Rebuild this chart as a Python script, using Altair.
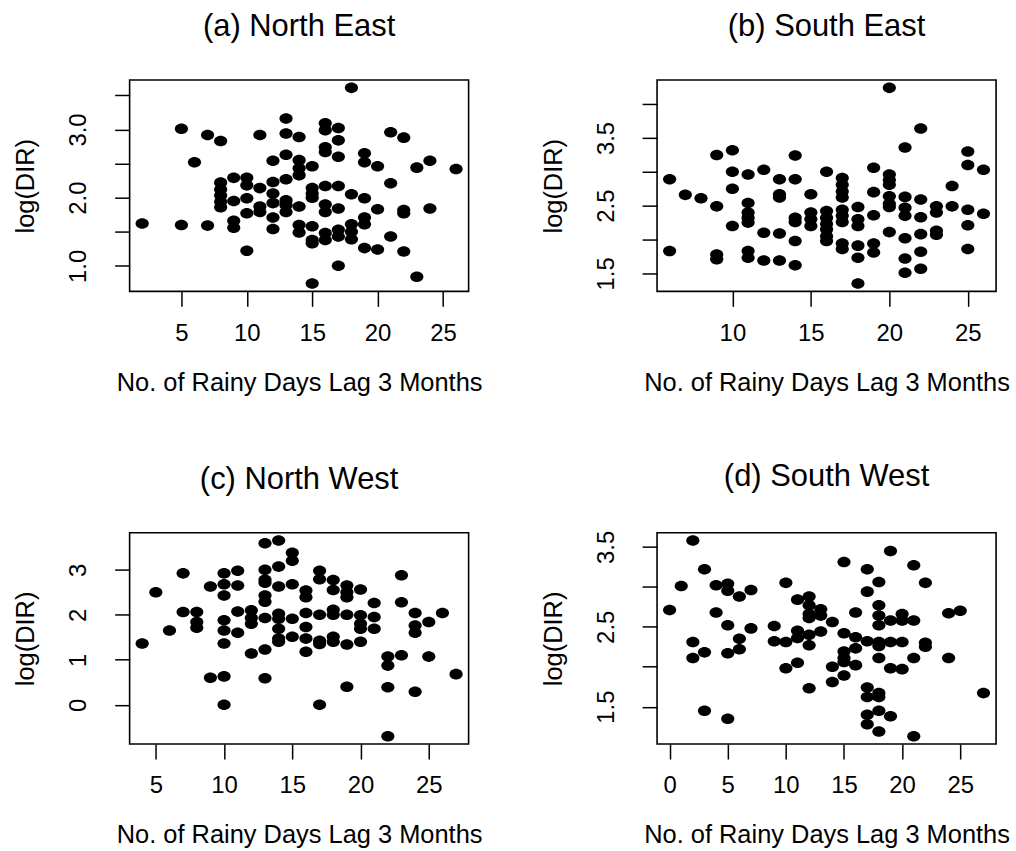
import altair as alt
import pandas as pd

FONT = "Liberation Sans"
X_TITLE = "No. of Rainy Days Lag 3 Months"
Y_TITLE = "log(DIR)"

# (a) North East
ne_days = [2, 5, 5, 6, 7, 7, 8, 8, 8, 8, 8, 8,
           9, 9, 9, 9, 10, 10, 10, 10, 10, 11, 11, 11, 11,
           12, 12, 12, 12, 12, 12, 13, 13, 13, 13, 13, 13, 13,
           14, 14, 14, 14, 14, 14, 14, 15, 15, 15, 15, 15, 15, 15, 15,
           16, 16, 16, 16, 16, 16, 16, 16, 16, 17, 17, 17, 17, 17, 17, 17, 17,
           18, 18, 18, 18, 18, 19, 19, 19, 19, 19, 19, 20, 20, 20,
           21, 21, 21, 22, 22, 22, 22, 23, 23, 24, 24, 26]
ne_logdir = [1.62, 3.01, 1.60, 2.52, 2.92, 1.59, 2.83, 2.22, 2.12, 2.03, 1.94, 1.86,
             2.29, 1.95, 1.66, 1.56, 2.29, 2.18, 1.99, 1.77, 1.22, 2.92, 2.14, 1.87, 1.79,
             2.54, 2.23, 2.06, 1.92, 1.71, 1.54, 3.16, 2.94, 2.63, 2.27, 1.96, 1.89, 1.79,
             2.89, 2.55, 2.43, 2.33, 1.87, 1.60, 1.49, 2.46, 2.14, 2.06, 2.00, 1.58, 1.38, 1.33, 0.74,
             3.09, 2.99, 2.74, 2.67, 2.17, 1.90, 1.79, 1.48, 1.38, 3.02, 2.84, 2.60, 2.17, 1.84, 1.53, 1.43, 1.00,
             3.61, 2.05, 1.61, 1.50, 1.39, 2.65, 2.52, 1.99, 1.71, 1.61, 1.26, 2.46, 1.83, 1.24,
             2.96, 2.21, 1.43, 2.88, 1.82, 1.77, 1.21, 2.44, 0.84, 2.54, 1.84, 2.42]

# (b) South East
se_days = [6, 6, 7, 8, 9, 9, 9, 9, 10, 10, 10, 10,
           11, 11, 11, 11, 11, 11, 11, 12, 12, 12, 13, 13, 13, 13, 13,
           14, 14, 14, 14, 14, 14, 15, 15, 15, 15, 16, 16, 16, 16, 16, 16, 16,
           17, 17, 17, 17, 17, 17, 17, 17, 17, 18, 18, 18, 18, 18, 18,
           19, 19, 19, 19, 19, 20, 20, 20, 20, 20, 20, 20, 20,
           21, 21, 21, 21, 21, 21, 21, 22, 22, 22, 22, 22, 22,
           23, 23, 23, 23, 24, 24, 25, 25, 25, 25, 25, 26, 26]
se_logdir = [2.89, 1.83, 2.66, 2.61, 3.25, 2.49, 1.78, 1.71, 3.32, 3.00, 2.75, 2.20,
             2.96, 2.54, 2.40, 2.32, 2.25, 1.83, 1.73, 3.03, 2.10, 1.69, 2.89, 2.67, 2.62, 2.09, 1.69,
             3.24, 2.89, 2.32, 2.26, 1.98, 1.62, 2.67, 2.40, 2.30, 2.20, 3.00, 2.42, 2.32, 2.23, 2.15, 2.05, 1.98,
             2.91, 2.81, 2.71, 2.62, 2.44, 2.35, 2.26, 1.94, 1.86, 2.48, 2.30, 2.20, 1.91, 1.73, 1.35,
             3.06, 2.70, 2.36, 1.94, 1.81, 4.24, 2.96, 2.88, 2.81, 2.64, 2.53, 2.48, 2.11,
             3.36, 2.63, 2.47, 2.35, 2.02, 1.72, 1.51, 3.64, 2.59, 2.33, 2.08, 1.82, 1.57,
             2.49, 2.40, 2.13, 2.07, 2.79, 2.49, 3.30, 3.10, 2.44, 2.21, 1.86, 3.03, 2.38]

# (c) North West
nw_days = [4, 5, 6, 7, 7, 8, 8, 8, 9, 9,
           10, 10, 10, 10, 10, 10, 10, 10, 11, 11, 11, 11, 12, 12, 12, 12,
           13, 13, 13, 13, 13, 13, 13, 13, 13, 14, 14, 14, 14, 14, 14, 14, 14,
           15, 15, 15, 15, 15, 16, 16, 16, 16, 16, 16, 17, 17, 17, 17, 17, 17,
           18, 18, 18, 18, 18, 18, 19, 19, 19, 19, 19, 19, 20, 20, 20, 20, 20,
           21, 21, 21, 22, 22, 22, 22, 23, 23, 23, 24, 24, 24, 24, 25, 25, 26, 27]
nw_logdir = [1.36, 2.50, 1.65, 2.92, 2.06, 2.06, 1.84, 1.71, 2.63, 0.60,
             2.92, 2.68, 2.43, 1.88, 1.65, 1.36, 0.63, 0.00, 2.98, 2.65, 2.07, 1.60, 2.10, 1.93, 1.80, 1.14,
             3.59, 3.00, 2.78, 2.71, 2.43, 2.29, 1.93, 1.23, 0.59, 3.65, 3.07, 2.63, 2.02, 1.91, 1.69, 1.47, 1.40,
             3.38, 3.20, 2.68, 1.91, 1.51, 2.54, 2.39, 2.04, 1.73, 1.47, 1.18, 2.98, 2.79, 2.00, 1.42, 1.35, 0.00,
             2.77, 2.55, 2.11, 2.00, 1.51, 1.40, 2.65, 2.50, 2.39, 2.00, 1.34, 0.40, 2.56, 1.99, 1.80, 1.69, 1.40,
             2.26, 1.95, 1.69, 1.07, 0.87, 0.39, -0.70, 2.88, 2.28, 1.10, 2.04, 1.76, 1.60, 0.29, 1.84, 1.07, 2.04, 0.68]

# (d) South West
sw_days = [0, 1, 2, 2, 2, 3, 3, 3, 4, 4, 5, 5, 5, 5, 5, 6, 6, 6, 7, 7,
           9, 9, 10, 10, 10, 11, 11, 11, 11, 12, 12, 12, 12, 12, 12, 12,
           13, 13, 13, 14, 14, 14, 15, 15, 15, 15, 15, 15, 16, 16, 16, 16,
           17, 17, 17, 17, 17, 17, 17, 18, 18, 18, 18, 18, 18, 18, 18, 18, 18, 18,
           19, 19, 19, 19, 19, 20, 20, 20, 20, 21, 21, 21, 21, 22, 22, 22, 24, 24, 25, 27]
sw_logdir = [2.71, 3.01, 3.58, 2.31, 2.11, 3.22, 2.18, 1.45, 3.02, 2.68, 3.04, 2.95, 2.52, 2.17, 1.35,
             2.88, 2.35, 2.22, 2.96, 2.48, 2.51, 2.32, 3.05, 2.31, 1.98, 2.84, 2.45, 2.36, 2.05,
             2.88, 2.77, 2.66, 2.61, 2.40, 2.27, 1.73, 2.72, 2.64, 2.44, 2.56, 2.00, 1.81,
             3.31, 2.42, 2.19, 2.11, 2.06, 1.89, 2.68, 2.37, 2.23, 2.02,
             3.22, 2.94, 2.32, 1.74, 1.62, 1.40, 1.28, 3.06, 2.77, 2.64, 2.52, 2.31, 2.26, 2.11, 1.67, 1.62, 1.45, 1.19,
             3.45, 2.58, 2.31, 1.98, 1.38, 2.66, 2.58, 2.31, 1.97, 3.27, 2.58, 2.11, 1.13, 3.05, 2.30, 2.25,
             2.67, 2.11, 2.70, 1.67]

# Axis tick positions and which of them carry a label
ne_xticks = [5, 10, 15, 20, 25]
ne_yticks = [1.0, 1.5, 2.0, 2.5, 3.0, 3.5]
ne_ylabels = [1.0, 2.0, 3.0]
se_xticks = [10, 15, 20, 25]
se_yticks = [1.5, 2.0, 2.5, 3.0, 3.5, 4.0]
se_ylabels = [1.5, 2.5, 3.5]
nw_xticks = [5, 10, 15, 20, 25]
nw_yticks = [0, 1, 2, 3]
nw_ylabels = [0, 1, 2, 3]
sw_xticks = [0, 5, 10, 15, 20, 25]
sw_yticks = [1.5, 2.0, 2.5, 3.0, 3.5]
sw_ylabels = [1.5, 2.5, 3.5]

# filled ellipse symbol (slightly wider than tall)
DOT = "M-1,0A1,0.8,0,1,1,1,0A1,0.8,0,1,1,-1,0Z"

PW, PH = 340, 212


def padded(vals):
    # R-style axis range: data range widened by 4% on each side
    lo, hi = min(vals), max(vals)
    d = (hi - lo) * 0.04
    return [lo - d, hi + d]


def panel(days, vals, title, xticks, yticks, ylabels, yfmt):
    df = pd.DataFrame({"days": days, "logdir": vals})
    shown = "[" + ",".join(str(v) for v in ylabels) + "]"
    label_expr = f"indexof({shown}, datum.value) >= 0 ? format(datum.value, '{yfmt}') : ''"
    common = dict(
        domain=False, grid=False, ticks=True, tickSize=15, tickWidth=1.5, tickColor="black",
        labelFont=FONT, labelFontSize=24, labelColor="black", labelFlush=False, labelOverlap=False,
        titleFont=FONT, titleFontWeight="normal", titleColor="black",
    )
    xaxis = alt.Axis(
        values=xticks, title=X_TITLE, format="d",
        labelBaseline="alphabetic", labelPadding=34,
        titleFontSize=25.5,
        titleX=PW / 2, titleY=99, titleBaseline="alphabetic", titleAlign="center",
        **common,
    )
    yaxis = alt.Axis(
        values=yticks, title=Y_TITLE, labelExpr=label_expr,
        labelAngle=270, labelAlign="center", labelBaseline="alphabetic", labelPadding=29,
        titleFontSize=25.5,
        titleAngle=270, titleX=-96, titleY=PH / 2, titleBaseline="alphabetic", titleAlign="center",
        **common,
    )
    return (
        alt.Chart(
            df,
            title=alt.TitleParams(
                title, font=FONT, fontSize=31, fontWeight="normal", color="black",
                anchor="middle", frame="group", offset=37,
            ),
        )
        .mark_point(shape=DOT, filled=True, size=175, color="black", opacity=1)
        .encode(
            x=alt.X("days:Q", scale=alt.Scale(domain=padded(days), nice=False, zero=False), axis=xaxis),
            y=alt.Y("logdir:Q", scale=alt.Scale(domain=padded(vals), nice=False, zero=False), axis=yaxis),
        )
        .properties(width=PW, height=PH)
    )


a = panel(ne_days, ne_logdir, "(a) North East", ne_xticks, ne_yticks, ne_ylabels, ".1f")
b = panel(se_days, se_logdir, "(b) South East", se_xticks, se_yticks, se_ylabels, ".1f")
c = panel(nw_days, nw_logdir, "(c) North West", nw_xticks, nw_yticks, nw_ylabels, "d")
d = panel(sw_days, sw_logdir, "(d) South West", sw_xticks, sw_yticks, sw_ylabels, ".1f")

chart = (
    alt.concat(a, b, c, d, columns=2, spacing={"row": 242, "column": 189}, bounds="flush")
    .properties(padding={"left": 13, "top": 9, "right": 5, "bottom": 5}, background="white")
    .configure_view(stroke="black", strokeWidth=1.6)
)

chart.save("out.html", embed_options={"renderer": "svg", "actions": False})
